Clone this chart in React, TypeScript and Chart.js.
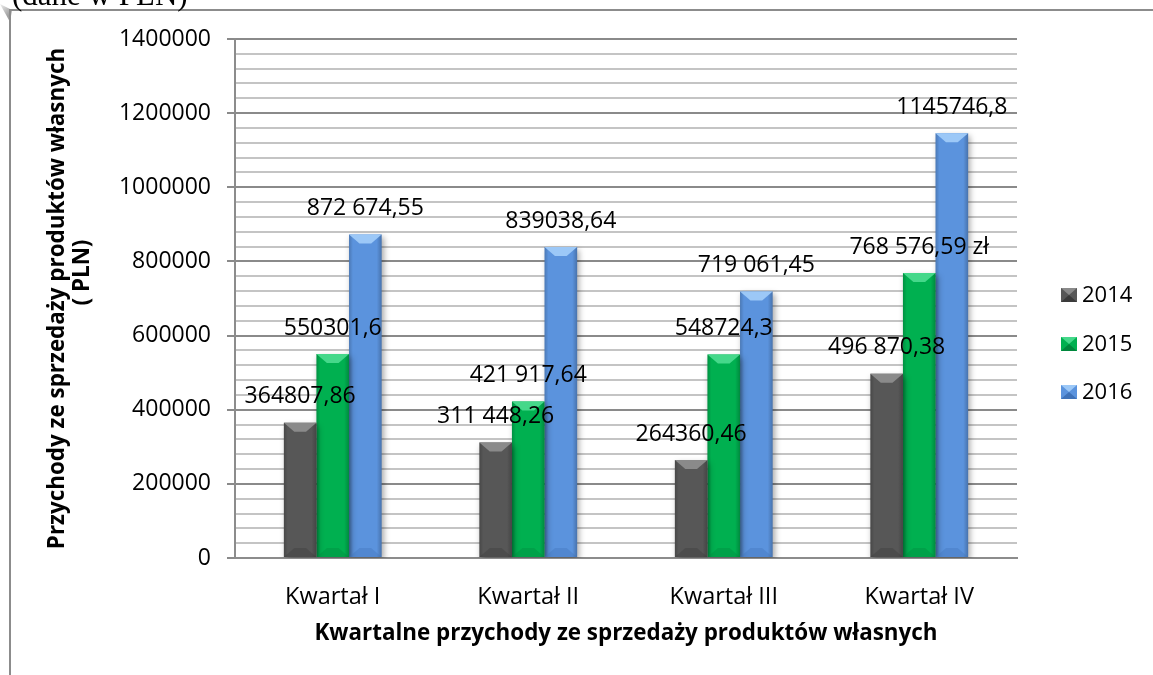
import React, { useEffect, useRef } from "react";
import { Chart, registerables } from "chart.js";

Chart.register(...registerables);

const categories = ["Kwartał I", "Kwartał II", "Kwartał III", "Kwartał IV"];
const seriesNames = ["2014", "2015", "2016"];
const values2014 = [364807.86, 311448.26, 264360.46, 496870.38];
const values2015 = [550301.6, 421917.64, 548724.3, 768576.59];
const values2016 = [872674.55, 839038.64, 719061.45, 1145746.8];
const labels2014 = ["364807,86", "311 448,26", "264360,46", "496 870,38"];
const labels2015 = ["550301,6", "421 917,64", "548724,3", "768 576,59 zł"];
const labels2016 = ["872 674,55", "839038,64", "719 061,45", "1145746,8"];
const yMin = 0;
const yMax = 1400000;
const yMajorStep = 200000;
const yMinorStep = 40000;
const xTitle = "Kwartalne przychody ze sprzedaży produktów własnych";
const yTitleLines = ["Przychody ze sprzedaży produktów własnych", "( PLN)"];
const topNote = "(dane w PLN)";

const FONT = "'Open Sans', 'Noto Sans', sans-serif";
const colors = ["#575757", "#00b050", "#5b93dd"];
const topColors = ["#8a8a8a", "#45d88a", "#9cc8f7"];
const bottomColors = ["#3a3a3a", "#00863c", "#3f72b8"];
const valueLabels = [labels2014, labels2015, labels2016];

function bevel(ctx: CanvasRenderingContext2D, left: number, right: number, top: number, base: number, i: number) {
  const w = right - left;
  const cx = (left + right) / 2;
  const h = Math.min(9, (base - top) / 2);
  ctx.save();
  const g = ctx.createLinearGradient(left, 0, right, 0);
  g.addColorStop(0, "rgba(0,0,0,0.18)");
  g.addColorStop(0.12, "rgba(0,0,0,0)");
  g.addColorStop(0.85, "rgba(0,0,0,0)");
  g.addColorStop(1, "rgba(0,0,0,0.22)");
  ctx.fillStyle = g;
  ctx.fillRect(left, top, w, base - top);
  ctx.fillStyle = topColors[i];
  ctx.beginPath();
  ctx.moveTo(left, top);
  ctx.lineTo(right, top);
  ctx.lineTo(cx + w * 0.18, top + h);
  ctx.lineTo(cx - w * 0.18, top + h);
  ctx.closePath();
  ctx.fill();
  ctx.fillStyle = bottomColors[i];
  ctx.globalAlpha = 0.35;
  ctx.beginPath();
  ctx.moveTo(left, base);
  ctx.lineTo(right, base);
  ctx.lineTo(cx + w * 0.18, base - h);
  ctx.lineTo(cx - w * 0.18, base - h);
  ctx.closePath();
  ctx.fill();
  ctx.restore();
}

const decorPlugin = {
  id: "decor",
  beforeDraw(chart: any) {
    const ctx = chart.ctx as CanvasRenderingContext2D;
    ctx.save();
    ctx.fillStyle = "#ffffff";
    ctx.fillRect(0, 0, chart.width, chart.height);
    const sg = ctx.createLinearGradient(0, 0, 12, 12);
    sg.addColorStop(0, "rgba(120,120,120,0.0)");
    sg.addColorStop(1, "rgba(120,120,120,0.7)");
    ctx.fillStyle = sg;
    ctx.beginPath();
    ctx.moveTo(0, 4);
    ctx.lineTo(12, 10);
    ctx.lineTo(10, 22);
    ctx.closePath();
    ctx.fill();
    ctx.strokeStyle = "#8c8c8c";
    ctx.lineWidth = 2;
    ctx.beginPath();
    ctx.moveTo(10, chart.height);
    ctx.lineTo(10, 10);
    ctx.lineTo(chart.width, 10);
    ctx.stroke();
    ctx.fillStyle = "#000";
    ctx.font = "31px 'Liberation Serif', serif";
    ctx.textAlign = "left";
    ctx.textBaseline = "alphabetic";
    ctx.fillText(topNote, 12, 5);
    ctx.restore();
  },
  beforeDatasetsDraw(chart: any) {
    const ctx = chart.ctx as CanvasRenderingContext2D;
    ctx.save();
    ctx.shadowColor = "rgba(0,0,0,0.35)";
    ctx.shadowBlur = 6;
    ctx.shadowOffsetX = 2;
    ctx.shadowOffsetY = 3;
  },
  afterDatasetsDraw(chart: any) {
    const ctx = chart.ctx as CanvasRenderingContext2D;
    ctx.restore();
    chart.data.datasets.forEach((ds: any, i: number) => {
      const meta = chart.getDatasetMeta(i);
      meta.data.forEach((el: any) => {
        const { x, y, base, width } = el.getProps(["x", "y", "base", "width"], true);
        bevel(ctx, x - width / 2, x + width / 2, y, base, i);
      });
    });
    ctx.save();
    ctx.fillStyle = "#000";
    ctx.font = `23px ${FONT}`;
    ctx.textAlign = "center";
    ctx.textBaseline = "middle";
    chart.data.datasets.forEach((ds: any, i: number) => {
      const meta = chart.getDatasetMeta(i);
      meta.data.forEach((el: any, j: number) => {
        const { x, y } = el.getProps(["x", "y"], true);
        ctx.fillText(valueLabels[i][j], x, y - 26);
      });
    });
    ctx.restore();
  },
  afterDraw(chart: any) {
    const ctx = chart.ctx as CanvasRenderingContext2D;
    const area = chart.chartArea;
    ctx.save();
    ctx.fillStyle = "#000";
    ctx.font = `bold 22.4px ${FONT}`;
    ctx.textAlign = "center";
    ctx.textBaseline = "middle";
    ctx.fillText(xTitle, (area.left + area.right) / 2, 634);
    const cy = (area.top + area.bottom) / 2;
    ctx.save();
    ctx.translate(58, cy);
    ctx.rotate(-Math.PI / 2);
    ctx.fillText(yTitleLines[0], 0, 0);
    ctx.fillText(yTitleLines[1], 26, 25);
    ctx.restore();
    ctx.font = `22px ${FONT}`;
    ctx.textAlign = "left";
    const ly = [295, 344, 392];
    seriesNames.forEach((name, i) => {
      const sx = 1061, sy = ly[i] - 7, sw = 16, sh = 14;
      ctx.fillStyle = colors[i];
      ctx.fillRect(sx, sy, sw, sh);
      ctx.fillStyle = topColors[i];
      ctx.beginPath();
      ctx.moveTo(sx, sy);
      ctx.lineTo(sx + sw, sy);
      ctx.lineTo(sx + sw / 2, sy + sh / 2);
      ctx.closePath();
      ctx.fill();
      ctx.fillStyle = bottomColors[i];
      ctx.beginPath();
      ctx.moveTo(sx, sy + sh);
      ctx.lineTo(sx + sw, sy + sh);
      ctx.lineTo(sx + sw / 2, sy + sh / 2);
      ctx.closePath();
      ctx.fill();
      ctx.fillStyle = "#000";
      ctx.fillText(name, 1082, ly[i] + 1);
    });
    ctx.restore();
  },
};

export default function App() {
  const ref = useRef<HTMLCanvasElement | null>(null);
  useEffect(() => {
    if (!ref.current) return;
    const chart = new Chart(ref.current, {
      type: "bar",
      data: {
        labels: categories,
        datasets: [
          { label: seriesNames[0], data: values2014, backgroundColor: colors[0] },
          { label: seriesNames[1], data: values2015, backgroundColor: colors[1] },
          { label: seriesNames[2], data: values2016, backgroundColor: colors[2] },
        ],
      },
      options: {
        animation: false,
        responsive: true,
        maintainAspectRatio: false,
        layout: { padding: { top: 39, right: 136, left: 0, bottom: 0 } },
        datasets: { bar: { barPercentage: 1, categoryPercentage: 0.5 } },
        plugins: { legend: { display: false }, tooltip: { enabled: false } },
        scales: {
          x: {
            grid: { display: true, drawOnChartArea: false, drawTicks: false },
            border: { display: true, color: "#8c8c8c", width: 2 },
            ticks: { color: "#000", font: { family: FONT, size: 23.5 }, padding: 25 },
            afterFit: (s: any) => { s.height = 117; },
          },
          y: {
            min: yMin,
            max: yMax,
            grid: {
              color: (c: any) => (c.tick && c.tick.value % yMajorStep === 0 ? "#8a8a8a" : "#c4c4c4"),
              lineWidth: 2,
              tickLength: 8,
              tickColor: (c: any) => (c.tick && c.tick.value % yMajorStep === 0 ? "#8a8a8a" : "rgba(0,0,0,0)"),
            },
            border: { display: true, color: "#8c8c8c", width: 2 },
            ticks: {
              stepSize: yMinorStep,
              autoSkip: false,
              color: "#000",
              font: { family: FONT, size: 23 },
              padding: 16,
              callback: (v: any) => (Number(v) % yMajorStep === 0 ? String(v) : ""),
            },
            afterFit: (s: any) => { s.width = 235; },
          },
        },
      },
      plugins: [decorPlugin],
    });
    return () => chart.destroy();
  }, []);
  return (
    <div style={{ position: "fixed", left: 0, top: 0, width: 1153, height: 675, background: "#fff" }}>
      <canvas ref={ref} />
    </div>
  );
}
